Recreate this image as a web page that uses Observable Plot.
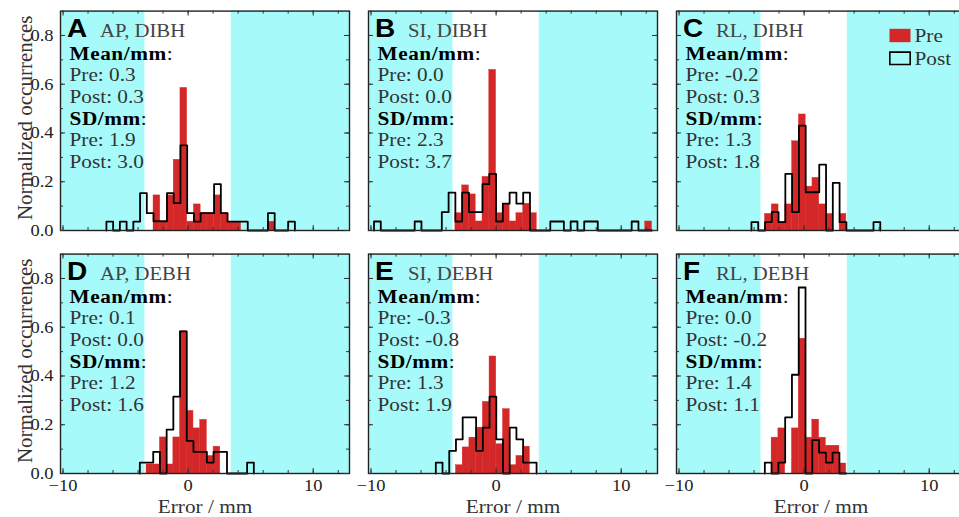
<!DOCTYPE html>
<html><head><meta charset="utf-8">
<script src="https://cdn.jsdelivr.net/npm/d3@7"></script>
<script src="https://cdn.jsdelivr.net/npm/@observablehq/plot@0.6"></script>
<style>
html,body{margin:0;padding:0;background:#fff;overflow:hidden;}
#root{position:relative;width:959px;height:517px;overflow:hidden;background:#fff;}
#root svg{position:absolute;max-width:none;}
</style></head><body><div id="root"></div>
<script>
// ---------- data ----------
const panelLetters = ["A", "B", "C", "D", "E", "F"];
const panelTitles = ["AP, DIBH", "SI, DIBH", "RL, DIBH", "AP, DEBH", "SI, DEBH", "RL, DEBH"];
const meanPre  = [0.3, 0.0, -0.2, 0.1, -0.3, 0.0];
const meanPost = [0.3, 0.0, 0.3, 0.0, -0.8, -0.2];
const sdPre    = [1.9, 2.3, 1.3, 1.2, 1.3, 1.4];
const sdPost   = [3.0, 3.7, 1.8, 1.6, 1.9, 1.1];

// histogram bins (mm): first edge and bin width per panel
const binStart = [-6.53, -9.76, -4.21, -3.86, -4.82, -3.14];
const binWidth = [0.538, 0.542, 0.542, 0.536, 0.537, 0.542];

const preA  = [0,0,0,0,0,0,0,0.144,0.036,0.144,0.29,0.585,0.036,0.107,0.071,0.071,0.144,0.071,0.036,0.036,0,0,0,0,0.036,0,0,0];
const postA = [0.036,0,0.036,0,0.036,0.153,0.071,0.038,0.038,0.153,0.112,0.349,0.071,0.036,0.071,0.071,0.19,0.071,0.036,0.036,0.036,0,0,0,0.071,0,0,0.036];

const preB  = [0,0,0,0,0,0,0,0,0,0,0,0,0.071,0.185,0.148,0.037,0.22,0.659,0.071,0.11,0.037,0.071,0.11,0.071,0,0,0,0,0,0,0,0,0,0,0,0,0,0,0,0,0.037];
const postB = [0.037,0,0,0,0,0,0.037,0,0,0,0.075,0.155,0.037,0.155,0.075,0.075,0.19,0.232,0.037,0.11,0.155,0.11,0.155,0,0,0,0.037,0.037,0,0.037,0,0.037,0.037,0,0,0,0,0,0.037,0,0];

const preC  = [0,0,0.068,0.107,0.034,0.107,0.366,0.476,0.18,0.216,0.107,0.068,0,0.068,0,0,0,0,0];
const postC = [0.034,0,0.034,0.075,0.034,0.232,0.075,0.43,0.157,0.157,0.27,0,0.195,0.034,0,0,0,0,0.034];

const preD  = [0,0.037,0.037,0.148,0.037,0.148,0.583,0.257,0.185,0.22,0.072,0.11,0,0,0,0,0];
const postD = [0.045,0.045,0.089,0,0.18,0.315,0.583,0.134,0.089,0.089,0.045,0.089,0.089,0,0,0,0.045];

const preE  = [0,0,0,0.034,0.107,0.147,0.188,0.294,0.48,0.12,0.264,0.034,0.072,0.11,0];
const postE = [0.045,0,0.093,0.14,0.23,0.23,0.093,0.188,0.315,0.14,0,0.188,0.14,0.045,0.045];

const preF  = [0,0.147,0.185,0,0.185,0.553,0.147,0.221,0.147,0.114,0.114,0.041];
const postF = [0.045,0,0.045,0.23,0.405,0.763,0,0.137,0.086,0.045,0.086,0];

const preHeights  = [preA, preB, preC, preD, preE, preF];
const postHeights = [postA, postB, postC, postD, postE, postF];

const xDomain = [-10.2, 12.9];
const yDomain = [0, 0.9];
const tolerance = 3.45;              // mm, shaded outside
const xMajor = [-10, 0, 10];
const xMinor = [-10, -8, -6, -4, -2, 0, 2, 4, 6, 8, 10, 12];
const yMajor = [0, 0.2, 0.4, 0.6, 0.8];
const yMinor = [0.1, 0.2, 0.3, 0.4, 0.5, 0.6, 0.7, 0.8];
const legendLabels = ["Pre", "Post"];
const yLabel = "Normalized occurrences";
const xLabel = "Error / mm";

// ---------- layout / style ----------
const RED = "#d42828", CYAN = "#a7fafa";
const TEXT_STRETCH = 1.12;
const mL = 60, mR = 10, mT = 10.6, mB = 44;
const plotW = 359, plotH = 274;
const innerW = plotW - mL - mR, innerH = plotH - mT - mB;
const colX = [0, 308, 616], rowY = [0, 243.3];
const root = document.getElementById("root");
const minus = d => (d < 0 ? "\u2212" + Math.abs(d) : String(d));
const rectSym = {draw(ctx) { ctx.rect(-10.5, -6.7, 21, 13.4); }};
const boxSym = {draw(ctx) { ctx.rect(-10.2, -6.2, 20.4, 12.4); }};

function tl(text, dx, dy, opts = {}) {
  return Plot.text([text], {frameAnchor: "top-left", dx, dy, lineAnchor: "bottom", textAnchor: "start",
    fontSize: 19, fill: "#333", ...opts});
}

for (let i = 0; i < 6; i++) {
  const col = i % 3, row = Math.floor(i / 3);
  const pre = preHeights[i], post = postHeights[i], x0 = binStart[i], w = binWidth[i];
  const bins = pre.map((h, k) => ({x1: x0 + k * w, x2: x0 + (k + 1) * w, h}));
  const step = [{x: x0, y: 0}, ...post.map((h, k) => ({x: x0 + k * w, y: h})), {x: x0 + post.length * w, y: 0}];
  const shade = [{x1: xDomain[0], x2: -tolerance}, {x1: tolerance, x2: xDomain[1]}];

  const marks = [
    Plot.rect(shade, {x1: "x1", x2: "x2", fill: CYAN}),
    Plot.rectY(bins.filter(d => d.h > 0), {x1: "x1", x2: "x2", y: "h", fill: RED, stroke: RED, strokeWidth: 0.4}),
    Plot.line(step, {x: "x", y: "y", curve: "step-after", stroke: "#000", strokeWidth: 1.8}),
    Plot.frame({stroke: "#222", strokeWidth: 1.4}),
    // inward ticks on all four sides
    Plot.tickX(xMinor, {x: d => d, insetTop: innerH - 3, stroke: "#333"}),
    Plot.tickX(xMinor, {x: d => d, insetBottom: innerH - 3, stroke: "#333"}),
    Plot.tickX(xMajor, {x: d => d, insetTop: innerH - 5, stroke: "#333"}),
    Plot.tickX(xMajor, {x: d => d, insetBottom: innerH - 5, stroke: "#333"}),
    Plot.tickY(yMinor, {y: d => d, insetRight: innerW - 3, stroke: "#333"}),
    Plot.tickY(yMinor, {y: d => d, insetLeft: innerW - 3, stroke: "#333"}),
    Plot.tickY(yMajor, {y: d => d, insetRight: innerW - 5, stroke: "#333"}),
    Plot.tickY(yMajor, {y: d => d, insetLeft: innerW - 5, stroke: "#333"}),
    // panel annotations
    tl(panelLetters[i], 6.5, 25.4, {fontFamily: "Liberation Sans", fontWeight: "bold", fontSize: 25, fill: "#000"}),
    tl(panelTitles[i], 39.5, 25.4, {fill: "#444", fontSize: 18.5}),
    tl("Mean/mm:", 9, 48.7, {fill: "#111"}),
    tl("Pre: " + meanPre[i].toFixed(1), 9, 70.3),
    tl("Post: " + meanPost[i].toFixed(1), 9, 91.9),
    tl("SD/mm:", 9, 113.5, {fill: "#111"}),
    tl("Pre: " + sdPre[i].toFixed(1), 9, 135.1),
    tl("Post: " + sdPost[i].toFixed(1), 9, 156.7)
  ];
  if (col === 0) {
    marks.push(Plot.axisY(yMajor, {tickSize: 0, tickPadding: 7, tickFormat: d => d.toFixed(1), fontSize: 16.5, label: null, fill: "#222"}));
    marks.push(Plot.text([yLabel], {frameAnchor: "left", rotate: -90, dx: -29, dy: -3, lineAnchor: "bottom",
      textAnchor: "middle", fontSize: 21, fill: "#333"}));
  }
  if (row === 1) {
    marks.push(Plot.axisX(xMajor, {tickSize: 0, tickPadding: 5.5, tickFormat: minus, fontSize: 16.5, label: null, fill: "#222"}));
    marks.push(Plot.text([xLabel], {frameAnchor: "bottom", dy: 39.5, lineAnchor: "bottom", textAnchor: "middle",
      fontSize: 19, fill: "#333"}));
  }
  if (i === 2) {
    marks.push(Plot.dot([legendLabels[0]], {frameAnchor: "top-left", dx: 223.5, dy: 24.4, symbol: rectSym, fill: RED, stroke: "none"}));
    marks.push(Plot.dot([legendLabels[1]], {frameAnchor: "top-left", dx: 223.5, dy: 47.2, symbol: boxSym, fill: "none", stroke: "#000", strokeWidth: 1.6}));
    marks.push(tl(legendLabels[0], 238, 31.3));
    marks.push(tl(legendLabels[1], 238, 54.2));
  }

  const svg = Plot.plot({
    width: plotW, height: plotH,
    marginLeft: mL, marginRight: mR, marginTop: mT, marginBottom: mB,
    x: {domain: xDomain, axis: null},
    y: {domain: yDomain, axis: null},
    style: {fontFamily: "Liberation Serif", fontSize: "18px", background: "transparent", overflow: "visible", color: "#222"},
    marks
  });
  const ns = "http://www.w3.org/2000/svg";
  d3.select(svg).selectAll("text").each(function () {
    const t = this.textContent;
    // bold "Mean/mm" / "SD/mm" with a regular colon
    if (t === "Mean/mm:" || t === "SD/mm:") {
      this.textContent = "";
      const b = document.createElementNS(ns, "tspan");
      b.setAttribute("font-weight", "bold");
      b.setAttribute("fill", "#000");
      b.setAttribute("letter-spacing", "0.5");
      b.textContent = t.slice(0, -1);
      this.appendChild(b);
      this.appendChild(document.createTextNode(":"));
    }
    // the reference typesetting is slightly wider than it is tall
    const tr = this.getAttribute("transform");
    if (tr && !tr.includes("rotate")) {
      this.setAttribute("transform", tr + ` scale(${TEXT_STRETCH},1)`);
    } else if (!tr) {
      const x = +this.getAttribute("x") || 0, y = +this.getAttribute("y") || 0;
      this.setAttribute("transform", `translate(${x},${y}) scale(${TEXT_STRETCH},1) translate(${-x},${-y})`);
    }
  });
  svg.style.position = "absolute";
  svg.style.left = colX[col] + "px";
  svg.style.top = rowY[row] + "px";
  root.appendChild(svg);
}
</script></body></html>
